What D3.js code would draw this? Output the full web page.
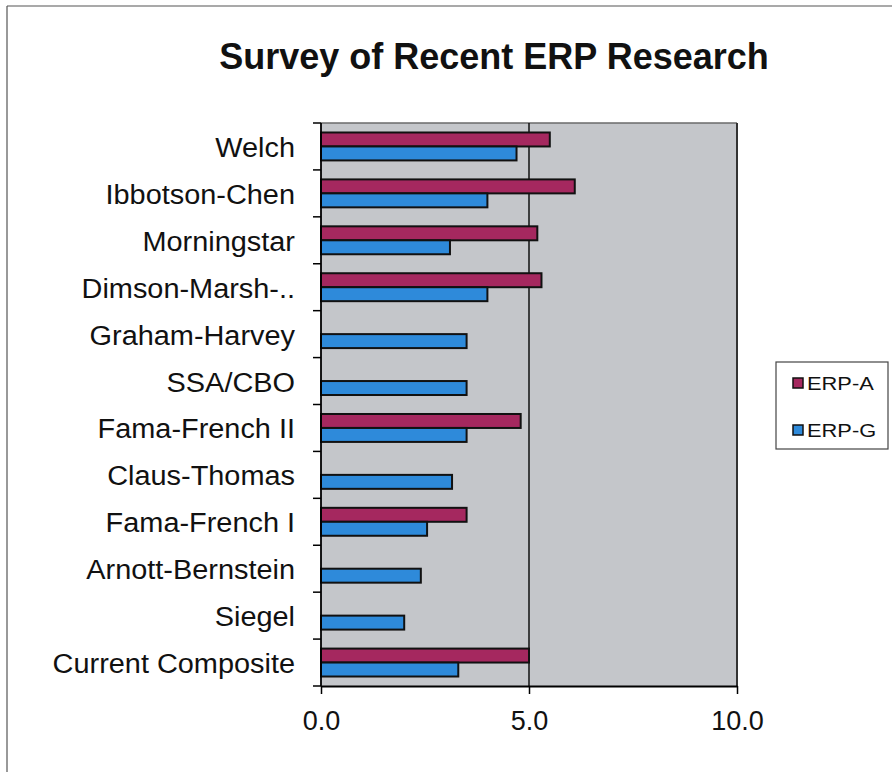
<!DOCTYPE html>
<html><head><meta charset="utf-8">
<script src="https://cdn.jsdelivr.net/npm/d3@7"></script>
<style>html,body{margin:0;padding:0;background:#fff;}svg{display:block;font-family:"Liberation Sans",Arial,sans-serif;}</style>
</head><body>
<script>
const categories = ["Welch","Ibbotson-Chen","Morningstar","Dimson-Marsh-..","Graham-Harvey","SSA/CBO","Fama-French II","Claus-Thomas","Fama-French I","Arnott-Bernstein","Siegel","Current Composite"];
const erpA = [5.5, 6.1, 5.2, 5.3, null, null, 4.8, null, 3.5, null, null, 5.0];
const erpG = [4.7, 4.0, 3.1, 4.0, 3.5, 3.5, 3.5, 3.15, 2.55, 2.4, 2.0, 3.3];
const seriesNames = ["ERP-A","ERP-G"];
const xTicks = [0, 5, 10];
const title = "Survey of Recent ERP Research";
const colors = {"ERP-A":"#A5285F","ERP-G":"#2E8ADA"};

const W = 892, H = 772;
const svg = d3.select("body").append("svg").attr("width", W).attr("height", H);

// outer frame
svg.append("line").attr("x1",7).attr("x2",7).attr("y1",6).attr("y2",H).attr("stroke","#555").attr("stroke-width",1.2);
svg.append("line").attr("x1",7).attr("x2",W).attr("y1",6).attr("y2",6).attr("stroke","#555").attr("stroke-width",1.2);

const m = {left:321, right:737, top:123, bottom:686};
const x = d3.scaleLinear().domain([0,10]).range([m.left, m.right]);
const y0 = d3.scaleBand().domain(categories).range([m.top, m.bottom]);
const y1 = d3.scaleBand().domain(seriesNames).range([0, y0.bandwidth()]).paddingOuter(0.68);

// plot background
svg.append("rect").attr("x",m.left).attr("y",m.top).attr("width",m.right-m.left).attr("height",m.bottom-m.top)
  .attr("fill","#c4c6ca");
svg.append("line").attr("x1",m.left).attr("x2",m.right).attr("y1",m.top).attr("y2",m.top).attr("stroke","#6a6a6a").attr("stroke-width",1.5);
svg.append("line").attr("x1",m.right).attr("x2",m.right).attr("y1",m.top).attr("y2",m.bottom).attr("stroke","#333").attr("stroke-width",2);

// gridline at 5
svg.append("line").attr("x1",x(5)).attr("x2",x(5)).attr("y1",m.top).attr("y2",m.bottom).attr("stroke","#111").attr("stroke-width",1.5);

// bars
const rows = categories.map((c,i)=>({cat:c, vals:[{s:"ERP-A",v:erpA[i]},{s:"ERP-G",v:erpG[i]}]}));
const g = svg.append("g");
rows.forEach(r=>{
  r.vals.filter(d=>d.v!=null).forEach(d=>{
    g.append("rect")
      .attr("x", x(0)).attr("y", y0(r.cat)+y1(d.s))
      .attr("width", x(d.v)-x(0)).attr("height", y1.bandwidth())
      .attr("fill", colors[d.s]).attr("stroke","#111").attr("stroke-width",2);
  });
});

// y axis
const yAxis = svg.append("g");
yAxis.append("line").attr("x1",m.left).attr("x2",m.left).attr("y1",m.top).attr("y2",m.bottom).attr("stroke","#000").attr("stroke-width",1.8);
const bounds = categories.map(c=>y0(c)).concat([m.bottom]);
bounds.forEach(b=>{
  yAxis.append("line").attr("x1",m.left-8).attr("x2",m.left).attr("y1",b).attr("y2",b).attr("stroke","#000").attr("stroke-width",1.5);
});
categories.forEach(c=>{
  yAxis.append("text")
    .attr("transform",`translate(295,${y0(c)+y0.bandwidth()/2+1}) scale(1.07,1)`)
    .attr("dy","0.35em")
    .attr("text-anchor","end").attr("font-size",27).attr("fill","#111").text(c);
});

// x axis
const xAxisG = svg.append("g").attr("transform",`translate(0,${m.bottom})`)
  .call(d3.axisBottom(x).tickValues(xTicks).tickFormat(d3.format(".1f")).tickSize(8).tickSizeOuter(0));
xAxisG.select(".domain").attr("stroke","#000").attr("stroke-width",1.8);
xAxisG.selectAll(".tick line").attr("stroke","#000").attr("stroke-width",1.5);
xAxisG.selectAll(".tick text").attr("font-size",27).attr("fill","#111").attr("dy",0).attr("y",44)
  .attr("font-family","Liberation Sans, Arial, sans-serif");

// title
svg.append("text").attr("x",494).attr("y",69).attr("text-anchor","middle")
  .attr("font-size",36).attr("font-weight","bold").attr("fill","#111").text(title);

// legend
const lg = svg.append("g");
lg.append("rect").attr("x",776).attr("y",362).attr("width",112).attr("height",87).attr("fill","#fff").attr("stroke","#444").attr("stroke-width",1.2);
seriesNames.forEach((s,i)=>{
  const yy = 378 + i*47;
  lg.append("rect").attr("x",793).attr("y",yy).attr("width",10).attr("height",10).attr("fill",colors[s]).attr("stroke","#111").attr("stroke-width",1.5);
  lg.append("text").attr("transform",`translate(807,${yy+12}) scale(1.15,1)`).attr("font-size",19).attr("fill","#111").text(s);
});
</script>
</body></html>
